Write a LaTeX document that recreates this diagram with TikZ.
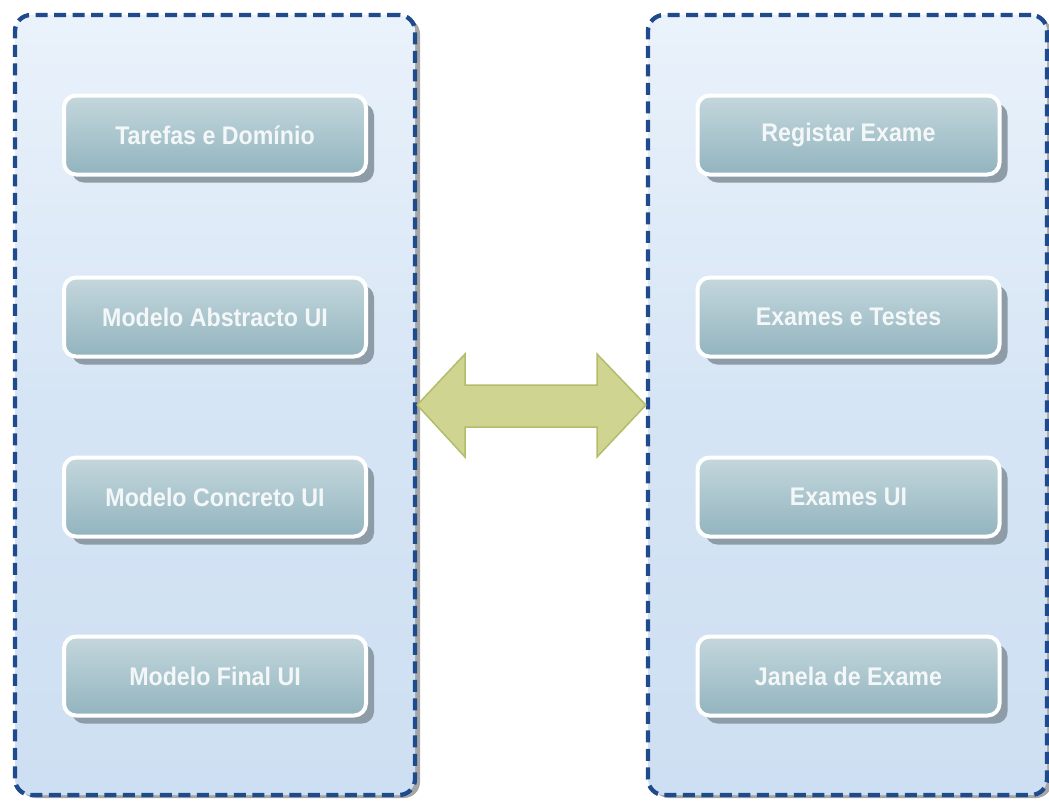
\documentclass[tikz,border=0pt]{standalone}
\usepackage{fontspec}
\setmainfont{Liberation Sans}
\usetikzlibrary{shadows}
\definecolor{contA}{HTML}{EAF2FB}
\definecolor{contB}{HTML}{CDDFF2}
\definecolor{contLine}{HTML}{1F4A8C}
\definecolor{boxA}{HTML}{C4D7DC}
\definecolor{boxB}{HTML}{92B4BF}
\definecolor{boxShadow}{HTML}{8E9CA7}
\definecolor{arrFill}{HTML}{D0D491}
\definecolor{arrLine}{HTML}{B3BC6C}
\definecolor{txt}{HTML}{F4F7F8}
\newcommand{\lbl}[1]{\scalebox{0.91}[1]{#1}}
\begin{document}
\begin{tikzpicture}[x=1pt,y=-1pt,
  container/.style={rectangle, rounded corners=16pt, minimum width=400pt, minimum height=780pt,
    top color=contA, bottom color=contB, middle color=contB!70!contA,
    draw=contLine, line width=4.3pt, dash pattern=on 12pt off 6.5pt,
    drop shadow={shadow xshift=5pt, shadow yshift=-3pt, fill=black!35, opacity=1}},
  stepbox/.style={rectangle, rounded corners=12pt, minimum width=302pt, minimum height=79pt,
    top color=boxA, bottom color=boxB, draw=white, line width=4pt,
    drop shadow={shadow xshift=8pt, shadow yshift=-8pt, fill=boxShadow, opacity=1},
    text=txt, font=\bfseries\fontsize{25.5}{29}\selectfont},
]
\useasboundingbox (0,0) rectangle (1049,801);
\node[container] (L) at (215,405) {};
\node[container, minimum width=399pt] (R) at (847.5,405) {};

\node[stepbox] (l1) at (215,135) {\lbl{Tarefas e Domínio}};
\node[stepbox] (l2) at (215,317) {\lbl{Modelo Abstracto UI}};
\node[stepbox] (l3) at (215,497) {\lbl{Modelo Concreto UI}};
\node[stepbox] (l4) at (215,676) {\lbl{Modelo Final UI}};

\node[stepbox] (r1) at (848.5,135) {\lbl{Registar Exame}};
\node[stepbox] (r2) at (848.5,317) {\lbl{Exames e Testes}};
\node[stepbox] (r3) at (848.5,497) {\lbl{Exames UI}};
\node[stepbox] (r4) at (848.5,676) {\lbl{Janela de Exame}};

\coordinate (tipL) at (L.east);
\coordinate (tipR) at (R.west);
\draw[fill=arrFill, draw=arrLine, line width=1.5pt, line join=miter]
  (tipL) -- (465,354) -- (465,385) -- (597,385) -- (597,354) -- (tipR)
  -- (597,457) -- (597,427) -- (465,427) -- (465,457) -- cycle;
\end{tikzpicture}
\end{document}
